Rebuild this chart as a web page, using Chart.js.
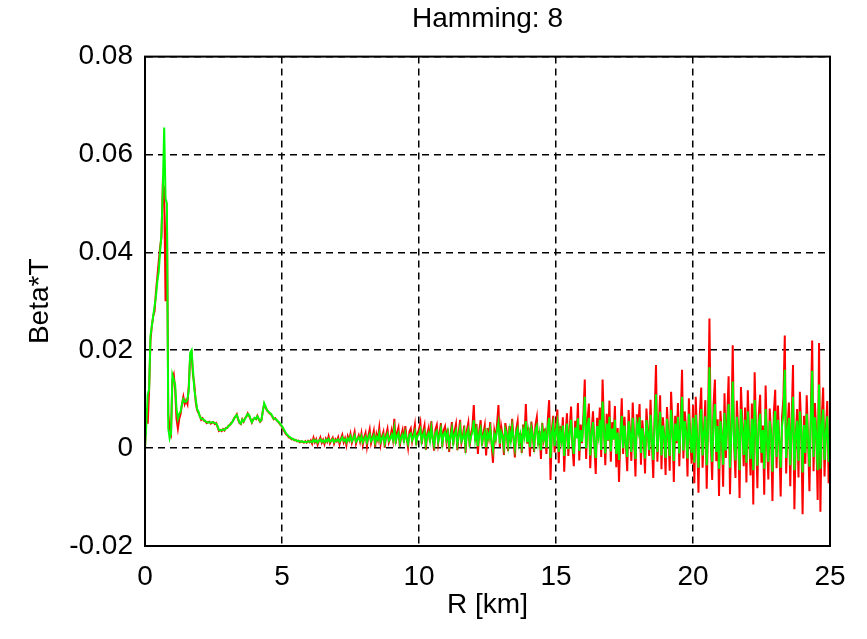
<!DOCTYPE html>
<html><head><meta charset="utf-8">
<script src="https://cdn.jsdelivr.net/npm/chart.js@4.4.1/dist/chart.umd.min.js"></script>
<style>html,body{margin:0;padding:0;background:#fff}#wrap{width:867px;height:639px}</style>
</head><body><div id="wrap"><canvas id="c" width="867" height="639"></canvas></div>
<script>
const chartTitle = 'Hamming: 8';
const xLabel = 'R [km]';
const yLabel = 'Beta*T';
const xTicks = [0, 5, 10, 15, 20, 25];
const yTicks = [-0.02, 0, 0.02, 0.04, 0.06, 0.08];
const rStep = 0.05; // range-bin spacing in km (samples at 0, 0.05, ... 25)

// 0.00 .. 6.00 km
const greenNear = [
0, 0.005, 0.011, 0.012, 0.023, 0.025, 0.027, 0.029, 0.031, 0.034, 0.036, 0.040, 0.044, 0.053, 0.0655, 0.051, 0.050, 0.004, 0.002, 0.003,
0.015, 0.014, 0.013, 0.008, 0.006, 0.007, 0.0075, 0.009, 0.010, 0.0095, 0.0095, 0.010, 0.012, 0.0195, 0.020, 0.016, 0.012, 0.010, 0.008, 0.0075,
0.0065, 0.006, 0.006, 0.0058, 0.0055, 0.0053, 0.0052, 0.0053, 0.0052, 0.0053, 0.0052, 0.0051, 0.005, 0.0045, 0.0037, 0.0036, 0.0037, 0.0038, 0.0037, 0.004,
0.0042, 0.0045, 0.0048, 0.005, 0.0055, 0.006, 0.0065, 0.0068, 0.006, 0.0052, 0.005, 0.0058, 0.0055, 0.006, 0.0065, 0.007, 0.0068, 0.006, 0.0053, 0.0058,
0.0062, 0.006, 0.0065, 0.006, 0.0055, 0.0058, 0.0075, 0.0092, 0.0085, 0.0078, 0.0075, 0.0072, 0.007, 0.0065, 0.006, 0.006, 0.0058, 0.0055, 0.0052, 0.0048,
0.0045, 0.004, 0.0035, 0.003, 0.0027, 0.0024, 0.0022, 0.002, 0.0018, 0.0017, 0.0016, 0.0015, 0.0014, 0.0014, 0.0013, 0.0014, 0.0012, 0.0013, 0.0012, 0.0014,
0.0013];
const redNear = [
0, 0.008, 0.005, 0.012, 0.022, 0.025, 0.027, 0.028, 0.032, 0.035, 0.038, 0.041, 0.043, 0.054, 0.053, 0.030, 0.048, 0.007, 0.004, 0.003,
0.014, 0.015, 0.012, 0.006, 0.004, 0.006, 0.007, 0.009, 0.0105, 0.009, 0.0098, 0.009, 0.013, 0.019, 0.0195, 0.015, 0.013, 0.0095, 0.0078, 0.0072,
0.0066, 0.0058, 0.0061, 0.0056, 0.0055, 0.0051, 0.0053, 0.0054, 0.005, 0.0052, 0.0053, 0.0049, 0.0051, 0.0043, 0.0035, 0.0037, 0.0035, 0.0039, 0.0036, 0.0041,
0.0041, 0.0046, 0.0047, 0.0052, 0.0054, 0.0061, 0.0064, 0.0069, 0.0058, 0.0051, 0.0049, 0.0059, 0.0054, 0.0061, 0.0064, 0.0071, 0.0066, 0.0059, 0.0052, 0.0059,
0.0061, 0.0059, 0.0066, 0.0059, 0.0054, 0.0057, 0.0076, 0.009, 0.0084, 0.0077, 0.0074, 0.0071, 0.0069, 0.0064, 0.0059, 0.0061, 0.0057, 0.0054, 0.0051, 0.0047,
0.0044, 0.0038, 0.0033, 0.0028, 0.0026, 0.0022, 0.0021, 0.0018, 0.0019, 0.0016, 0.0017, 0.0014, 0.0015, 0.0012, 0.0014, 0.0013, 0.0011, 0.0014, 0.0011, 0.0015,
0.0012];

// 6.05 .. 25.00 km, one line per km
const redFar = [
0.0016,0.0009,0.0021,0.0012,0.0018,0.0007,0.0015,0.0022,0.0011,0.0017,0.0008,0.0019,0.0013,0.0024,0.0010,0.0016,0.0021,0.0009,0.0018,0.0014,
0.0022,0.0008,0.0019,0.0027,0.0012,0.0020,0.0006,0.0024,0.0016,0.0029,0.0011,0.0021,0.0033,0.0009,0.0018,0.0026,0.0013,0.0030,0.0007,0.0022,
0.0031,0.0004,0.0025,0.0038,0.0010,0.0022,0.0035,0.0002,0.0028,0.0017,0.0041,0.0008,0.0024,0.0033,0.0001,0.0027,0.0039,0.0012,0.0021,0.0036,
0.0018,0.0060,0.0009,0.0032,0.0042,0.0003,0.0026,0.0037,0.0011,0.0045,0.0020,0.0001,0.0034,0.0040,0.0014,0.0029,0.0047,0.0006,0.0031,0.0038,
0.0052,0.0008,0.0033,0.0046,-0.0003,0.0029,0.0041,0.0012,0.0055,0.0021,-0.0005,0.0038,0.0047,0.0010,0.0031,0.0051,0.0002,0.0036,0.0044,0.0015,
0.0040,-0.0008,0.0027,0.0053,0.0006,0.0035,0.0049,-0.0004,0.0031,0.0058,0.0011,0.0024,0.0046,-0.0010,0.0037,0.0052,0.0003,0.0029,0.0044,0.0088,
0.0014,0.0049,-0.0012,0.0036,0.0057,0.0005,0.0030,0.0046,-0.0015,0.0041,0.0022,0.0053,0.0008,-0.0030,0.0035,0.0019,0.0050,0.0088,0.0002,0.0044,
0.0026,-0.0014,0.0051,0.0033,-0.0006,0.0045,0.0012,0.0060,0.0020,-0.0019,0.0039,0.0055,0.0004,0.0031,-0.0010,0.0048,0.0024,0.0090,0.0009,0.0042,
-0.0017,0.0054,0.0028,-0.0008,0.0047,0.0063,0.0006,0.0035,-0.0022,0.0051,0.0019,0.0040,-0.0012,0.0058,0.0098,-0.0065,0.0037,0.0066,-0.0009,0.0044,
0.0079,-0.0031,0.0045,0.0012,0.0063,-0.0048,0.0028,0.0071,-0.0016,0.0039,0.0085,0.0004,-0.0037,0.0056,0.0021,0.0092,-0.0025,0.0048,0.0010,0.0067,
0.0140,-0.0022,0.0058,0.0091,-0.0041,0.0034,0.0075,0.0008,-0.0053,0.0062,0.0027,0.0083,-0.0018,0.0140,0.0046,-0.0035,0.0070,0.0015,0.0097,-0.0028,
0.0053,0.0018,0.0086,-0.0039,0.0041,-0.0069,0.0029,0.0102,-0.0012,0.0064,0.0007,-0.0047,0.0078,0.0035,-0.0026,0.0093,0.0022,-0.0058,0.0069,0.0040,
0.0090,-0.0034,0.0057,0.0021,-0.0052,0.0081,0.0038,-0.0016,0.0099,0.0012,-0.0061,0.0070,0.0170,-0.0028,0.0045,0.0108,-0.0043,0.0063,0.0026,-0.0055,
0.0084,0.0030,-0.0046,0.0115,0.0049,-0.0069,0.0066,0.0010,0.0092,-0.0037,0.0054,0.0160,-0.0021,0.0075,0.0038,-0.0058,0.0102,0.0017,-0.0032,0.0088,
-0.0072,0.0105,0.0022,-0.0091,0.0069,0.0124,-0.0040,0.0035,0.0098,-0.0083,0.0051,0.0265,0.0012,-0.0065,0.0088,0.0140,-0.0027,0.0059,-0.0098,0.0076,
0.0031,-0.0079,0.0112,-0.0020,0.0063,0.0147,-0.0094,0.0044,0.0210,0.0008,-0.0061,0.0097,0.0035,-0.0102,0.0125,0.0050,-0.0037,0.0083,-0.0070,0.0118,
0.0024,-0.0056,0.0091,-0.0115,0.0155,0.0038,-0.0082,0.0067,0.0109,-0.0030,0.0046,-0.0095,0.0128,0.0015,-0.0064,0.0081,0.0030,-0.0108,0.0072,0.0119,
-0.0041,0.0087,0.0012,-0.0099,0.0064,0.0101,0.0230,-0.0052,0.0039,0.0093,-0.0078,0.0057,0.0170,-0.0125,0.0026,0.0080,-0.0060,0.0115,0.0043,-0.0135,
0.0066,-0.0032,0.0108,0.0017,-0.0088,0.0074,0.0220,-0.0047,0.0092,0.0028,-0.0106,0.0215,-0.0130,0.0061,0.0124,-0.0058,0.0037,0.0096,-0.0072,0.0045];
const greenFar = [
0.0014,0.0012,0.0017,0.0013,0.0016,0.0011,0.0015,0.0018,0.0013,0.0016,0.0012,0.0017,0.0014,0.0019,0.0013,0.0015,0.0018,0.0012,0.0016,0.0015,
0.0018,0.0013,0.0017,0.0022,0.0015,0.0018,0.0012,0.0020,0.0016,0.0024,0.0014,0.0019,0.0026,0.0013,0.0017,0.0022,0.0015,0.0024,0.0012,0.0019,
0.0024,0.0012,0.0021,0.0028,0.0014,0.0019,0.0026,0.0011,0.0023,0.0017,0.0030,0.0013,0.0020,0.0026,0.0010,0.0022,0.0029,0.0015,0.0019,0.0027,
0.0017,0.0040,0.0014,0.0025,0.0031,0.0011,0.0022,0.0028,0.0015,0.0032,0.0019,0.0009,0.0027,0.0030,0.0016,0.0024,0.0034,0.0012,0.0025,0.0029,
0.0038,0.0014,0.0027,0.0034,0.0008,0.0024,0.0031,0.0015,0.0041,0.0020,0.0006,0.0030,0.0035,0.0013,0.0026,0.0039,0.0010,0.0028,0.0033,0.0017,
0.0032,0.0006,0.0023,0.0039,0.0011,0.0028,0.0036,0.0008,0.0025,0.0042,0.0014,0.0021,0.0035,0.0004,0.0029,0.0038,0.0010,0.0024,0.0033,0.0057,
0.0017,0.0036,0.0004,0.0029,0.0040,0.0011,0.0025,0.0034,0.0002,0.0031,0.0020,0.0038,0.0012,-0.0004,0.0028,0.0019,0.0036,0.0052,0.0009,0.0033,
0.0024,0.0003,0.0038,0.0028,0.0006,0.0035,0.0015,0.0043,0.0021,0.0000,0.0031,0.0040,0.0010,0.0027,0.0004,0.0036,0.0022,0.0055,0.0012,0.0033,
0.0002,0.0040,0.0025,0.0005,0.0036,0.0045,0.0011,0.0030,-0.0004,0.0038,0.0019,0.0032,0.0001,0.0042,0.0062,-0.0020,0.0030,0.0048,0.0004,0.0035,
0.0052,-0.0008,0.0034,0.0014,0.0046,-0.0016,0.0025,0.0050,-0.0002,0.0031,0.0058,0.0010,-0.0012,0.0042,0.0020,0.0061,-0.0006,0.0037,0.0013,0.0048,
0.0105,0.0000,0.0043,0.0062,-0.0015,0.0029,0.0053,0.0011,-0.0020,0.0045,0.0024,0.0058,-0.0004,0.0095,0.0036,-0.0011,0.0050,0.0016,0.0064,-0.0007,
0.0040,0.0018,0.0058,-0.0012,0.0032,-0.0024,0.0025,0.0066,0.0000,0.0046,0.0011,-0.0018,0.0055,0.0030,-0.0008,0.0062,0.0020,-0.0022,0.0049,0.0033,
0.0063,-0.0010,0.0041,0.0020,-0.0021,0.0057,0.0031,-0.0004,0.0068,0.0015,-0.0024,0.0050,0.0110,-0.0008,0.0036,0.0074,-0.0015,0.0046,0.0024,-0.0020,
0.0060,0.0027,-0.0016,0.0078,0.0040,-0.0026,0.0050,0.0014,0.0064,-0.0011,0.0043,0.0105,-0.0005,0.0055,0.0031,-0.0021,0.0070,0.0019,-0.0010,0.0062,
-0.0030,0.0068,0.0021,-0.0040,0.0050,0.0080,-0.0015,0.0031,0.0065,-0.0035,0.0041,0.0165,0.0015,-0.0028,0.0060,0.0090,-0.0008,0.0045,-0.0042,0.0055,
0.0028,-0.0034,0.0072,-0.0005,0.0046,0.0090,-0.0040,0.0035,0.0136,0.0013,-0.0025,0.0064,0.0030,-0.0045,0.0080,0.0040,-0.0014,0.0058,-0.0030,0.0075,
0.0022,-0.0022,0.0060,-0.0045,0.0098,0.0032,-0.0036,0.0048,0.0070,-0.0010,0.0037,-0.0042,0.0080,0.0017,-0.0028,0.0056,0.0026,-0.0048,0.0050,0.0076,
-0.0018,0.0058,0.0015,-0.0040,0.0045,0.0068,0.0160,-0.0020,0.0033,0.0062,-0.0035,0.0043,0.0105,-0.0045,0.0025,0.0056,-0.0026,0.0075,0.0036,-0.0050,
0.0047,-0.0010,0.0070,0.0020,-0.0038,0.0054,0.0158,-0.0018,0.0063,0.0025,-0.0045,0.0130,-0.0042,0.0046,0.0079,-0.0024,0.0030,0.0065,-0.0028,0.0000];

const redSeries = redNear.concat(redFar);
const greenSeries = greenNear.concat(greenFar);
const rangeKm = redSeries.map((_, i) => Math.round(i * rStep * 100) / 100);
const toPts = arr => arr.map((v, i) => ({x: rangeKm[i], y: v}));

const FONT = 'Liberation Sans, Arial, Helvetica, sans-serif';
const frame = {
  id: 'frame',
  afterDraw(chart) {
    const {ctx, chartArea: a} = chart;
    ctx.save();
    ctx.strokeStyle = '#000';
    ctx.lineWidth = 2;
    ctx.strokeRect(a.left, a.top, a.right - a.left, a.bottom - a.top);
    ctx.restore();
  }
};

new Chart(document.getElementById('c'), {
  type: 'line',
  data: {
    datasets: [
      {label: 'green', data: toPts(greenSeries), borderColor: '#00ff00', borderWidth: 2, pointRadius: 0, tension: 0, fill: false, order: 0},
      {label: 'red', data: toPts(redSeries), borderColor: '#ff0000', borderWidth: 2, pointRadius: 0, tension: 0, fill: false, order: 1}
    ]
  },
  options: {
    responsive: false,
    animation: false,
    devicePixelRatio: 1,
    parsing: false,
    normalized: true,
    layout: {padding: {left: 0, right: 37, top: 0, bottom: 0}},
    plugins: {
      legend: {display: false},
      tooltip: {enabled: false},
      title: {display: true, text: chartTitle, fullSize: false, color: '#000',
        font: {family: FONT, size: 28, weight: 'normal'}, padding: {top: 2, bottom: 21}}
    },
    scales: {
      x: {
        type: 'linear', min: 0, max: 25, z: 1,
        afterBuildTicks: s => { s.ticks = xTicks.map(v => ({value: v})); },
        afterFit: s => { s.height = 93; },
        grid: {color: '#000', lineWidth: 1.5, drawTicks: false},
        border: {display: true, color: '#000', width: 2, dash: [7, 5]},
        ticks: {color: '#000', font: {family: FONT, size: 28}, padding: 14, maxRotation: 0, autoSkip: false,
          callback: v => String(v)},
        title: {display: true, text: xLabel, color: '#000', font: {family: FONT, size: 28}, padding: {top: 0, bottom: 17}}
      },
      y: {
        type: 'linear', min: -0.02, max: 0.08, z: 1,
        afterBuildTicks: s => { s.ticks = yTicks.map(v => ({value: v})); },
        afterFit: s => { s.width = 145; },
        grid: {color: '#000', lineWidth: 1.5, drawTicks: false},
        border: {display: true, color: '#000', width: 2, dash: [7, 5]},
        ticks: {color: '#000', font: {family: FONT, size: 28}, padding: 12,
          callback: v => Math.abs(v) < 1e-9 ? '0' : v.toFixed(2)},
        title: {display: true, text: yLabel, color: '#000', font: {family: FONT, size: 28}, padding: {top: 23, bottom: 0}}
      }
    }
  },
  plugins: [frame]
});
</script>
</body></html>
